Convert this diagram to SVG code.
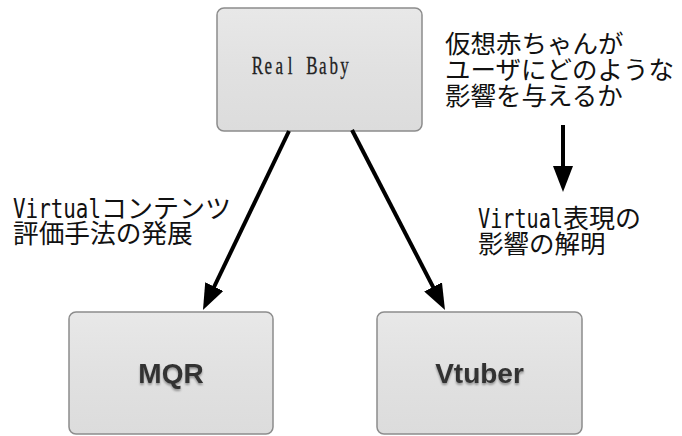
<svg xmlns="http://www.w3.org/2000/svg" width="682" height="436" viewBox="0 0 682 436">
  <defs>
    <linearGradient id="boxfill" x1="0" y1="0" x2="0" y2="1">
      <stop offset="0" stop-color="#e8e8e8"/>
      <stop offset="0.5" stop-color="#e1e1e1"/>
      <stop offset="1" stop-color="#dcdcdc"/>
    </linearGradient>
    <filter id="tshadow" x="-10%" y="-10%" width="120%" height="140%">
      <feGaussianBlur in="SourceAlpha" stdDeviation="1"/>
      <feOffset dx="0" dy="2" result="b"/>
      <feComponentTransfer><feFuncA type="linear" slope="0.35"/></feComponentTransfer>
      <feMerge><feMergeNode/><feMergeNode in="SourceGraphic"/></feMerge>
    </filter>
    <marker id="ah" markerUnits="userSpaceOnUse" markerWidth="26" markerHeight="20" refX="16" refY="10" orient="auto" viewBox="0 0 26 20">
      <path d="M0,0 L26,10 L0,20 z" fill="#000"/>
    </marker>
  </defs>
  <style>
    .box { fill: url(#boxfill); stroke: #8c8c8c; stroke-width: 1.5; }
    .lbl { font-family: "Liberation Sans", Arial, sans-serif; font-weight: bold; font-size: 28px; fill: #333; text-anchor: middle; }
    .jp { font-family: "Noto Sans CJK JP", sans-serif; fill: #111; }
    .mono { font-family: "DejaVu Sans Mono", monospace; fill: #111; font-size: 26px; }
    .serifmono { font-family: "Liberation Serif", "Times New Roman", serif; fill: #222; font-size: 25px; text-anchor: middle; stroke: #222; stroke-width: 0.3; }
    .conn { stroke: #000; stroke-width: 4; fill: none; marker-end: url(#ah); }
  </style>
  <rect width="682" height="436" fill="#fff"/>

  <g id="node-realbaby">
    <rect class="box" x="217" y="8" width="205" height="123" rx="7"/>
    <text class="serifmono" transform="translate(252,74) scale(0.68,1)" x="8.0 24.0 40.1 56.1 72.1 88.1 104.2 120.2 136.2" y="0">Real Baby</text>
  </g>
  <g id="node-mqr">
    <rect class="box" x="69" y="312" width="204" height="122" rx="7"/>
    <text class="lbl" x="171" y="383" filter="url(#tshadow)">MQR</text>
  </g>
  <g id="node-vtuber">
    <rect class="box" x="377" y="312" width="205" height="122" rx="7"/>
    <text class="lbl" x="479.5" y="383" filter="url(#tshadow)">Vtuber</text>
  </g>

  <g id="connectors">
    <line class="conn" x1="289" y1="131" x2="207.3" y2="301"/>
    <line class="conn" x1="352" y1="130" x2="440.4" y2="301.1"/>
    <line class="conn" x1="563" y1="125" x2="563" y2="182"/>
  </g>

  <g id="label-question">
    <text class="jp" font-size="25.5" x="445" y="53">仮想赤ちゃんが</text>
    <text class="jp" font-size="25.5" x="445" y="79">ユーザにどのような</text>
    <text class="jp" font-size="25.5" x="445" y="105">影響を与えるか</text>
  </g>
  <g id="label-left">
    <text class="mono" x="13" y="218" textLength="88" lengthAdjust="spacingAndGlyphs">Virtual</text>
    <text class="jp" font-size="26" x="101" y="218">コンテンツ</text>
    <text class="jp" font-size="25.7" x="13" y="243">評価手法の発展</text>
  </g>
  <g id="label-right">
    <text class="mono" x="478" y="228" textLength="85" lengthAdjust="spacingAndGlyphs">Virtual</text>
    <text class="jp" font-size="26" x="563" y="228">表現の</text>
    <text class="jp" font-size="25.5" x="478" y="253">影響の解明</text>
  </g>
</svg>
